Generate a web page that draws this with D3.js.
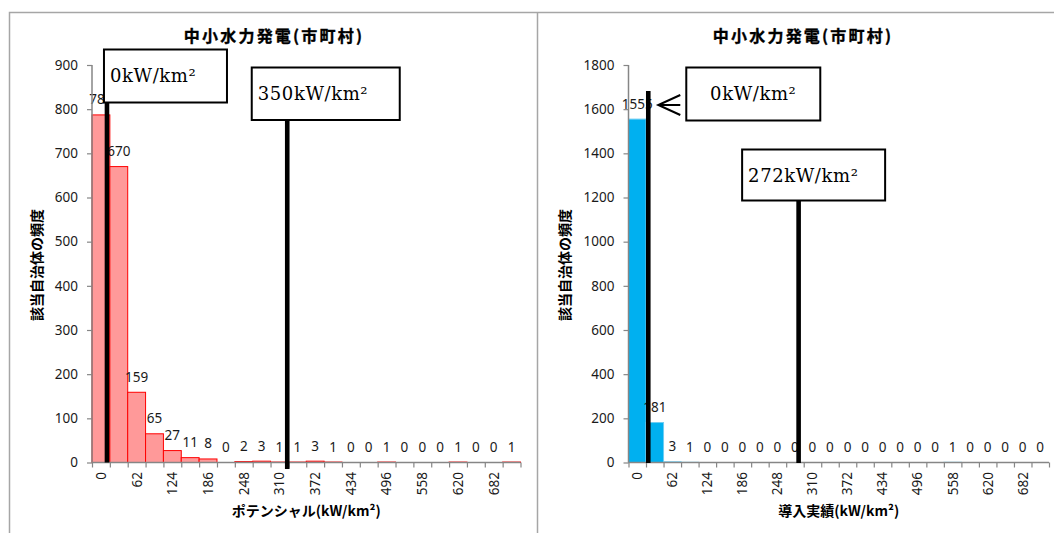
<!DOCTYPE html>
<html>
<head>
<meta charset="utf-8">
<script src="https://cdn.jsdelivr.net/npm/d3@7"></script>
<style>
  body { margin: 0; background: #fff; }
  svg { display: block; }
  .num { font-family: "Noto Sans", "Open Sans", sans-serif; font-size: 13.5px; fill: #1a1a1a; }
  .jp { font-family: "Noto Sans CJK JP", "Noto Sans", sans-serif; font-weight: 700; fill: #000; }
  .guide { font-family: "DejaVu Serif", "Liberation Serif", serif; font-size: 18px; letter-spacing: 0.6px; fill: #000; }
</style>
</head>
<body>
<svg id="chart" width="1054" height="533"></svg>
<script>
// Histogram bins (lower bound of each 31 kW/km² class)
const binStarts = [0, 31, 62, 93, 124, 155, 186, 217, 248, 279, 310, 341,
                   372, 403, 434, 465, 496, 527, 558, 589, 620, 651, 682, 713];
const binWidth = 31;

// Number of municipalities in each class
const potentialCounts = [787, 670, 159, 65, 27, 11, 8, 0, 2, 3, 1, 1,
                         3, 1, 0, 0, 1, 0, 0, 0, 1, 0, 0, 1];
const installedCounts = [1555, 181, 3, 1, 0, 0, 0, 0, 0, 0, 0, 0,
                         0, 0, 0, 0, 0, 0, 1, 0, 0, 0, 0, 0];

// Y axis ticks
const potentialTicks = [0, 100, 200, 300, 400, 500, 600, 700, 800, 900];
const installedTicks = [0, 200, 400, 600, 800, 1000, 1200, 1400, 1600, 1800];

// Text
const chartTitle = "中小水力発電(市町村)";
const yTitle = "該当自治体の頻度";
const potentialXTitle = "ポテンシャル(kW/km²)";
const installedXTitle = "導入実績(kW/km²)";

// Reference guides: where each vertical guide sits on the x axis, and its caption
const potentialGuidePos = [26, 339];
const potentialGuideText = ["0kW/km²", "350kW/km²"];
const installedGuidePos = [35, 301];
const installedGuideText = ["0kW/km²", "272kW/km²"];

const svg = d3.select("#chart");

// Panel frames
const frame = svg.append("g").attr("fill", "none").attr("stroke", "#a6a6a6").attr("stroke-width", 1.5);
frame.append("path").attr("d", "M9.5,533 V12.5 H1054");
frame.append("path").attr("d", "M537.5,12.5 V533");

const panels = [
  {
    counts: potentialCounts, ticks: potentialTicks, xTitle: potentialXTitle,
    left: 92, right: 520.5, titleX: 274,
    fill: "#ff9999", stroke: "#ff0000", yTitleX: 37,
    guides: [
      { pos: potentialGuidePos[0], text: potentialGuideText[0], lineTop: 102, lineBottom: 462.5,
        boxDx: -3, boxTop: 49.5, boxW: 123, boxH: 53, align: "start" },
      { pos: potentialGuidePos[1], text: potentialGuideText[1], lineTop: 120, lineBottom: 469,
        boxDx: -35.5, boxTop: 67.5, boxW: 148, boxH: 52.5, align: "start" }
    ]
  },
  {
    counts: installedCounts, ticks: installedTicks, xTitle: installedXTitle,
    left: 628.5, right: 1049, titleX: 803,
    fill: "#00b0f0", stroke: "#6fcdf3", yTitleX: 564.5,
    guides: [
      { pos: installedGuidePos[0], text: installedGuideText[0], lineTop: 91, lineBottom: 463,
        boxDx: 38, boxTop: 67.5, boxW: 134, boxH: 53, align: "middle", arrow: true },
      { pos: installedGuidePos[1], text: installedGuideText[1], lineTop: 200, lineBottom: 463,
        boxDx: -56.5, boxTop: 149.5, boxW: 143, boxH: 51, align: "start" }
    ]
  }
];

const plotTop = 65, plotBottom = 462.5;

panels.forEach(p => {
  const g = svg.append("g");
  const yMax = p.ticks[p.ticks.length - 1];
  const y = d3.scaleLinear().domain([0, yMax]).range([plotBottom, plotTop]);
  const x = d3.scaleBand().domain(binStarts).range([p.left, p.right]).padding(0);
  const xv = d3.scaleLinear()
    .domain([0, binStarts[binStarts.length - 1] + binWidth])
    .range([p.left, p.right]);

  // Title
  g.append("text").attr("class", "jp")
    .attr("x", p.titleX).attr("y", 42)
    .attr("text-anchor", "middle")
    .style("font-size", "16px").style("letter-spacing", "2.2px")
    .style("stroke", "#000").style("stroke-width", "0.35px")
    .text(chartTitle);

  // Bars
  const data = binStarts.map((b, i) => ({ b, v: p.counts[i] }));
  g.append("g").selectAll("rect").data(data.filter(d => d.v > 0)).join("rect")
    .attr("x", d => x(d.b))
    .attr("y", d => y(d.v))
    .attr("width", x.bandwidth())
    .attr("height", d => plotBottom - y(d.v))
    .attr("fill", p.fill)
    .attr("stroke", p.stroke)
    .attr("stroke-width", 1);

  // Value labels
  g.append("g").selectAll("text").data(data).join("text")
    .attr("class", "num")
    .attr("x", d => x(d.b) + x.bandwidth() / 2)
    .attr("y", d => y(d.v) - 10.5)
    .attr("text-anchor", "middle")
    .text(d => d.v);

  // Y axis
  const ya = g.append("g").attr("transform", `translate(${p.left},0)`)
    .call(d3.axisLeft(y).tickValues(p.ticks).tickSize(5).tickPadding(9).tickFormat(d3.format("d")));
  ya.select(".domain").attr("stroke", "#868686").attr("stroke-width", 1.5).attr("d", `M0,${plotTop}V${plotBottom}`);
  ya.selectAll(".tick line").attr("stroke", "#868686").attr("stroke-width", 1.2);
  ya.selectAll(".tick text").attr("class", "num").attr("font-family", null).attr("font-size", null);

  // X axis: boundary ticks
  const xt = g.append("g").attr("transform", `translate(0,${plotBottom})`)
    .call(d3.axisBottom(xv)
      .tickValues(binStarts.concat([binStarts[binStarts.length - 1] + binWidth]))
      .tickSize(5).tickFormat(""));
  xt.select(".domain").attr("stroke", "#868686").attr("stroke-width", 1.5)
    .attr("d", `M${p.left},0H${p.right}`);
  xt.selectAll(".tick line").attr("stroke", "#868686").attr("stroke-width", 1.2);

  // X axis: class labels, every other bin
  const xl = g.append("g").attr("transform", `translate(0,${plotBottom})`)
    .call(d3.axisBottom(x).tickValues(binStarts.filter((b, i) => i % 2 === 0)).tickSize(0));
  xl.select(".domain").remove();
  xl.selectAll(".tick text")
    .attr("class", "num").attr("font-family", null).attr("font-size", null)
    .attr("transform", "rotate(-90)")
    .attr("x", -9.5).attr("y", 0).attr("dy", "0.36em")
    .style("text-anchor", "end");

  // Axis titles
  g.append("text").attr("class", "jp")
    .attr("transform", `translate(${p.yTitleX},${265}) rotate(-90)`)
    .attr("text-anchor", "middle").attr("dy", "0.36em")
    .style("font-size", "14px")
    .text(yTitle);
  g.append("text").attr("class", "jp")
    .attr("x", (p.left + p.right) / 2).attr("y", 516)
    .attr("text-anchor", "middle")
    .style("font-size", "14px")
    .text(p.xTitle);

  // Guides: vertical line, captioned box
  p.guides.forEach(gd => {
    const gx = xv(gd.pos);
    g.append("line")
      .attr("x1", gx).attr("x2", gx)
      .attr("y1", gd.lineTop).attr("y2", gd.lineBottom)
      .attr("stroke", "#000").attr("stroke-width", 4.6);
    const bx = gx + gd.boxDx;
    g.append("rect")
      .attr("x", bx).attr("y", gd.boxTop)
      .attr("width", gd.boxW).attr("height", gd.boxH)
      .attr("fill", "#fff").attr("stroke", "#000").attr("stroke-width", 2);
    g.append("text").attr("class", "guide")
      .attr("x", gd.align === "middle" ? bx + gd.boxW / 2 : bx + 6)
      .attr("y", gd.boxTop + 32.5)
      .attr("text-anchor", gd.align)
      .text(gd.text);
    if (gd.arrow) {
      const tip = gx + 10, ay = 105, end = bx - 6;
      g.append("path")
        .attr("d", `M${end},${ay - 10}L${tip},${ay}L${end},${ay + 10}M${tip},${ay}H${end}`)
        .attr("fill", "none").attr("stroke", "#000").attr("stroke-width", 2);
    }
  });
});
</script>
</body>
</html>
